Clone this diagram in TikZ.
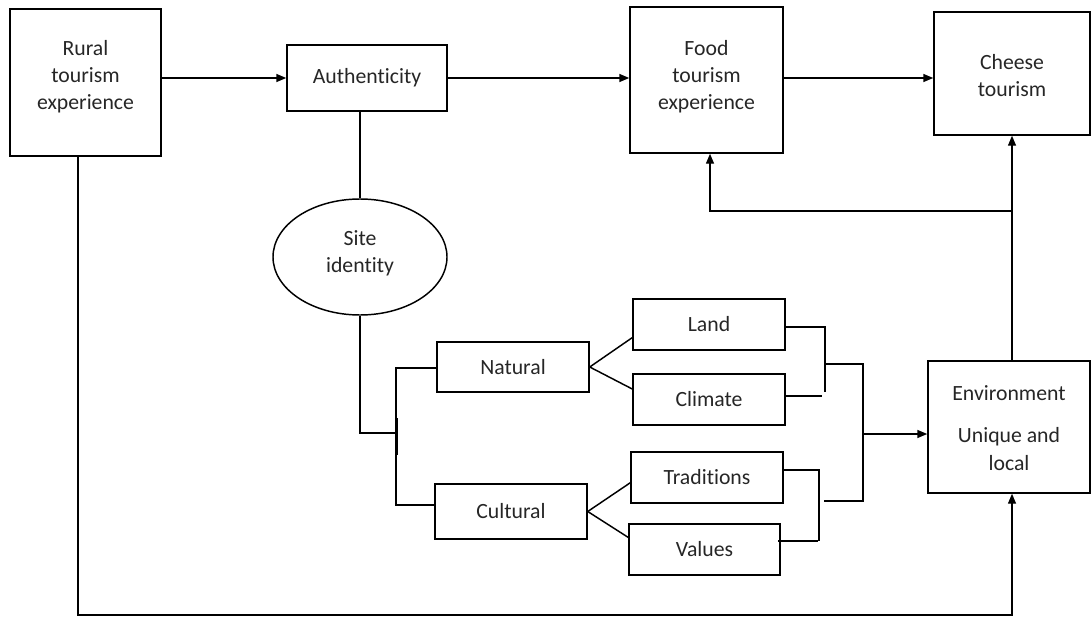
\documentclass[tikz,border=0pt]{standalone}
\usepackage{fontspec}
\setmainfont[Ligatures=NoCommon]{Carlito}
\usetikzlibrary{arrows.meta,calc,shapes.geometric}
\newlength\px \setlength\px{0.75pt}
\begin{document}
\begin{tikzpicture}[x=0.75pt,y=-0.75pt,
  every node/.style={font=\fontsize{16.3}{20.3}\selectfont, align=center, inner sep=0pt, text=black!85},
  box/.style={draw=black, line width=1.1pt, rectangle},
  ln/.style={line width=1.1pt},
  arr/.style={line width=1.1pt, -{Triangle[length=7.5pt,width=6pt]}}]
\useasboundingbox (0,0) rectangle (1092,617);
% boxes
\node[box, minimum width=151\px, minimum height=147\px] (rural) at (85.5,82.5) {};
\node (ruralt) at (85.5,76.5) {Rural\\tourism\\experience};
\node[box, minimum width=160\px, minimum height=66\px] (auth) at (367,78) {Authenticity};
\node[box, minimum width=153\px, minimum height=146\px] (food) at (706.5,80) {};
\node (foodt) at (706.5,76.5) {Food\\tourism\\experience};
\node[box, minimum width=156\px, minimum height=123\px] (cheese) at (1012,73.5) {};
\node (cheeset) at (1012,76) {Cheese\\tourism};
\node[draw=black, ellipse, line width=1.1pt, minimum width=174\px, minimum height=116\px] (site) at (360,257) {};
\node (sitet) at (360,253) {Site\\identity};
\node[box, minimum width=152\px, minimum height=50\px] (natural) at (513,367) {Natural};
\node[box, minimum width=152\px, minimum height=55\px] (cultural) at (511,511.5) {Cultural};
\node[box, minimum width=152\px, minimum height=51\px] (land) at (709,324.5) {Land};
\node[box, minimum width=152\px, minimum height=51\px] (climate) at (709,399.5) {Climate};
\node[box, minimum width=152\px, minimum height=51\px] (traditions) at (707,477.5) {Traditions};
\node[box, minimum width=151\px, minimum height=51\px] (values) at (704.5,549.5) {Values};
\node[box, minimum width=162\px, minimum height=132\px] (env) at (1009,427) {};
\node (envt1) at (1009,393) {Environment};
\node (envt2) at (1009,449) {Unique and\\local};
% coordinates
\coordinate (top) at (0,78);
\coordinate (b1) at (396,368);
\coordinate (b2) at (396,505);
\coordinate (b3) at (396,433);
\coordinate (lb) at (825,327);
\coordinate (lc) at (825,364);
\coordinate (cb) at (822,396);
\coordinate (tb) at (819,470);
\coordinate (vb) at (818,541);
\coordinate (rb) at (863,364);
\coordinate (ra) at (863,434);
\coordinate (rc) at (863,501);
\coordinate (tc) at (824,501);
\coordinate (br) at (0,211);
\coordinate (bot) at (0,615);
% top row
\draw[arr] (rural.east |- top) -- (auth.west);
\draw[arr] (auth.east) -- (food.west |- top);
\draw[arr] (food.east |- top) -- (cheese.west |- top);
% site identity
\draw[ln] ([xshift=-7\px]auth.south) -- (site.north);
\draw[ln] (site.south) |- (b3);
\draw[ln] (natural.west |- b1) -- (b1) -- (b2) -- (cultural.west |- b2);
\draw[ln] ([xshift=1.5\px]b3) ++(0,-15) -- ++(0,37);
% fans
\draw[ln] (natural.east) -- ($(land.south west)!0.25!(land.north west)$);
\draw[ln] (natural.east) -- ($(climate.north west)!0.3!(climate.south west)$);
\draw[ln] (cultural.east) -- ($(traditions.north west)!0.6!(traditions.south west)$);
\draw[ln] (cultural.east) -- ($(values.north west)!0.27!(values.south west)$);
% right brackets
\draw[ln] (land.east |- lb) -- (lb) -- ++(0,65);
\draw[ln] (climate.east |- cb) -- (cb);
\draw[ln] (traditions.east |- tb) -- (tb) -- (tb |- vb);
\draw[ln] ([xshift=-2.5\px]values.east |- vb) -- (vb);
\draw[ln] (lc) -- (rb) -- (rc) -- (tc);
\draw[arr] (ra) -- (env.west |- ra);
% environment upward
\draw[arr] (cheese.south |- env.north) -- (cheese.south);
\draw[arr] (cheese.south |- br) -| ([xshift=3.5\px]food.south);
% bottom loop
\draw[arr] ([xshift=-7.5\px]rural.south) |- (cheese.south |- bot) -- (cheese.south |- env.south);
\end{tikzpicture}
\end{document}
